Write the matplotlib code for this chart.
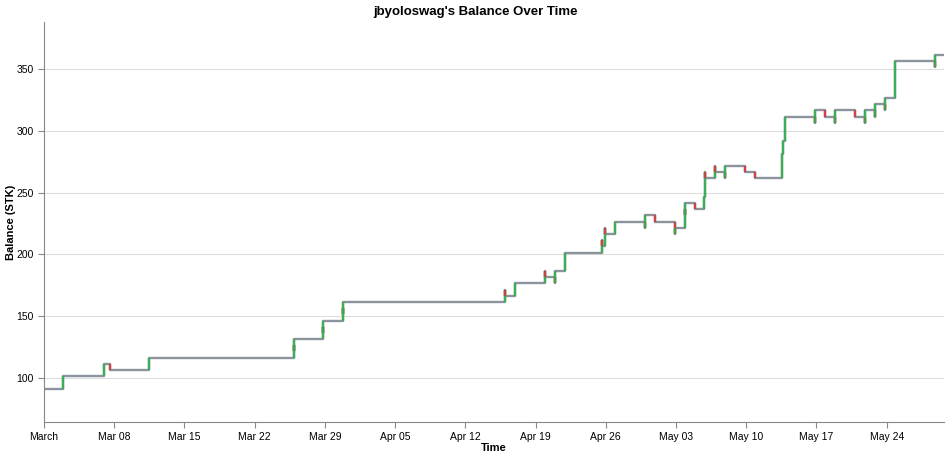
import numpy as np
import pandas as pd
import matplotlib
matplotlib.use("Agg")
import matplotlib.pyplot as plt
import matplotlib.dates as mdates

# starting balance and the window shown
start_time = "2020-03-01 00:00"
end_time = "2020-05-29 17:15"
start_balance = 91.5

# transactions (time, change in STK)
tx_times = [
    "2020-03-02 21:30", "2020-03-06 23:45", "2020-03-07 14:10", "2020-03-11 11:30",
    "2020-03-25 22:50", "2020-03-25 22:52", "2020-03-25 22:54",
    "2020-03-28 20:10", "2020-03-28 20:12", "2020-03-28 20:14",
    "2020-03-30 20:10", "2020-03-30 20:12", "2020-03-30 20:14",
    "2020-04-15 21:50", "2020-04-15 21:52", "2020-04-16 21:50",
    "2020-04-19 21:35", "2020-04-19 21:37", "2020-04-20 21:35", "2020-04-20 21:37",
    "2020-04-21 21:35", "2020-04-25 14:10", "2020-04-25 14:12",
    "2020-04-25 21:20", "2020-04-25 21:22", "2020-04-26 21:20",
    "2020-04-29 21:00", "2020-04-29 21:02", "2020-04-30 21:00",
    "2020-05-02 21:00", "2020-05-02 21:02",
    "2020-05-03 21:00", "2020-05-03 21:02", "2020-05-03 21:04", "2020-05-04 21:00",
    "2020-05-05 18:30", "2020-05-05 21:00", "2020-05-05 21:02",
    "2020-05-06 21:00", "2020-05-06 21:02", "2020-05-07 20:40", "2020-05-07 20:42",
    "2020-05-09 20:40", "2020-05-10 20:40",
    "2020-05-13 13:10", "2020-05-13 16:50", "2020-05-13 20:25",
    "2020-05-16 20:25", "2020-05-16 20:27", "2020-05-17 20:10",
    "2020-05-18 20:10", "2020-05-18 20:12", "2020-05-20 20:10",
    "2020-05-21 20:10", "2020-05-21 20:12",
    "2020-05-22 20:00", "2020-05-22 20:02", "2020-05-23 20:00", "2020-05-23 20:02",
    "2020-05-24 20:00", "2020-05-28 19:40", "2020-05-28 19:42",
]
tx_deltas = [
    10, 10, -5, 10,
    10, -5, 10,
    10, -5, 10,
    10, -5, 10,
    10, -5, 10,
    10, -5, -5, 10,
    15, 10, -5,
    15, -5, 10,
    -5, 10, -5,
    -10, 5,
    15, -5, 10, -5,
    10, 20, -5,
    10, -5, -5, 10,
    -5, -5,
    20, 10, 20,
    -5, 10, -5,
    -5, 10, -5,
    -5, 10,
    -5, 10, -5, 10,
    30, -5, 10,
]

tick_dates = ["2020-03-01", "2020-03-08", "2020-03-15", "2020-03-22", "2020-03-29",
              "2020-04-05", "2020-04-12", "2020-04-19", "2020-04-26", "2020-05-03",
              "2020-05-10", "2020-05-17", "2020-05-24"]
tick_labels = ["March", "Mar 08", "Mar 15", "Mar 22", "Mar 29", "Apr 05", "Apr 12",
               "Apr 19", "Apr 26", "May 03", "May 10", "May 17", "May 24"]

plt.rcParams['font.family'] = ['Liberation Sans', 'DejaVu Sans']

t = pd.to_datetime(tx_times)
after = start_balance + np.cumsum(tx_deltas)
before = after - np.array(tx_deltas)

# step line of the balance
line_t = [pd.Timestamp(start_time)] + list(t) + [pd.Timestamp(end_time)]
line_v = [start_balance] + list(after) + [after[-1]]

fig = plt.figure(figsize=(9.51, 4.59), dpi=100)
ax = fig.add_axes([44 / 951, 37 / 459, 900 / 951, 400 / 459])

ax.step(line_t, line_v, where="post", color="#8a939e", lw=1.7, zorder=2)

# colored rules for each change
for ti, b, a, d in zip(t, before, after, tx_deltas):
    c = "#2fb34a" if d > 0 else "#d8363a"
    ax.vlines(ti, b, a, color=c, lw=1.7, alpha=0.85, zorder=3)

ax.set_xlim(pd.Timestamp(start_time), pd.Timestamp(end_time))
ax.set_ylim(64.4, 388)
ax.set_yticks([100, 150, 200, 250, 300, 350])
ax.set_xticks(pd.to_datetime(tick_dates))
ax.set_xticklabels(tick_labels)

ax.grid(axis="y", color="#dddddd", lw=0.8, zorder=0)
ax.set_axisbelow(True)
for s in ["top", "right"]:
    ax.spines[s].set_visible(False)
for s in ["left", "bottom"]:
    ax.spines[s].set_color("#888888")
    ax.spines[s].set_linewidth(0.8)
ax.tick_params(colors="#888888", labelcolor="black", labelsize=7.5, length=4, width=0.8)

ax.set_xlabel("Time", fontsize=8, fontweight="bold")
ax.set_ylabel("Balance (STK)", fontsize=8, fontweight="bold")
ax.xaxis.set_label_coords(0.5, -(448 - 422) / 400, transform=ax.transAxes)
ax.yaxis.set_label_coords(-(44 - 11) / 900, 0.5, transform=ax.transAxes)
ax.xaxis.label.set_va("center")
ax.yaxis.label.set_va("center")
fig.text(0.5, 1 - 12 / 459, "jbyoloswag's Balance Over Time", ha="center", va="center",
         fontsize=9.5, fontweight="bold")

fig.savefig("out.png", dpi=100)
